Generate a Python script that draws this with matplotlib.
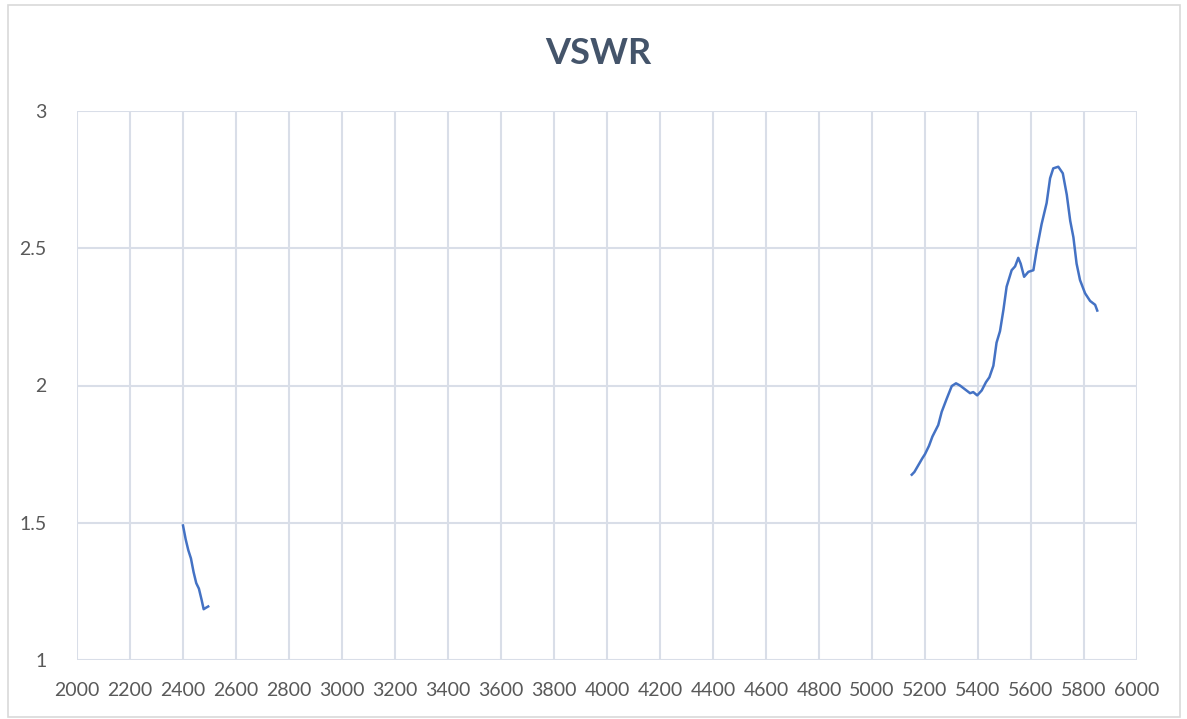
import matplotlib
matplotlib.use('Agg')
import matplotlib.pyplot as plt
from matplotlib.patches import Rectangle

# 2.4 GHz band
freq_low = [2400, 2410, 2420, 2430, 2440, 2450, 2460, 2470, 2478, 2486, 2495]
vswr_low = [1.49, 1.44, 1.40, 1.37, 1.32, 1.28, 1.26, 1.22, 1.185, 1.19, 1.195]

# 5 GHz band
freq_high = [5150, 5160, 5175, 5190, 5200, 5215, 5228, 5250, 5263, 5282, 5301,
             5317, 5332, 5351, 5370, 5382, 5397, 5414, 5430, 5443, 5458, 5470,
             5483, 5496, 5508, 5527, 5540, 5552, 5561, 5574, 5590, 5609, 5621,
             5640, 5659, 5672, 5684, 5703, 5720, 5735, 5748, 5760, 5772, 5785,
             5804, 5823, 5842, 5850]
vswr_high = [1.675, 1.685, 1.71, 1.735, 1.75, 1.78, 1.814, 1.856, 1.904, 1.952,
             1.998, 2.008, 2.0, 1.986, 1.972, 1.976, 1.964, 1.982, 2.012, 2.03,
             2.072, 2.156, 2.198, 2.276, 2.36, 2.42, 2.434, 2.465, 2.444, 2.396,
             2.414, 2.42, 2.492, 2.588, 2.665, 2.755, 2.791, 2.797, 2.773, 2.695,
             2.6, 2.54, 2.444, 2.384, 2.336, 2.308, 2.294, 2.273]

x_ticks = list(range(2000, 6001, 200))
y_ticks = [1, 1.5, 2, 2.5, 3]

plt.rcParams['font.family'] = ['Lato', 'DejaVu Sans']

fig = plt.figure(figsize=(11.87, 7.19), dpi=100)
ax = fig.add_axes([77 / 1187, 1 - 660 / 719, 1060 / 1187, 549 / 719])

line_color = '#4472C4'
ax.plot(freq_low, vswr_low, color=line_color, lw=1.8)
ax.plot(freq_high, vswr_high, color=line_color, lw=1.8)

ax.set_xlim(2000, 6000)
ax.set_ylim(1, 3)
ax.set_xticks(x_ticks)
ax.set_yticks(y_ticks)
ax.set_yticklabels(['1', '1.5', '2', '2.5', '3'])
ax.tick_params(length=0, labelsize=14, colors='#595959')
ax.tick_params(axis='x', pad=16)
ax.tick_params(axis='y', pad=22)
ax.grid(True, color='#D9DEE8', lw=1.5)
ax.set_axisbelow(True)
for s in ax.spines.values():
    s.set_visible(False)

fig.text(598 / 1187, 1 - 53 / 719, 'VSWR', ha='center', va='center',
         fontsize=26, fontweight='bold', color='#44546A')

# chart border
fig.patches.append(Rectangle((8 / 1187, 2 / 719), 1172 / 1187, 712 / 719,
                             transform=fig.transFigure, fill=False,
                             ec='#D9D9D9', lw=1.2))

fig.savefig('out.png', dpi=100)
